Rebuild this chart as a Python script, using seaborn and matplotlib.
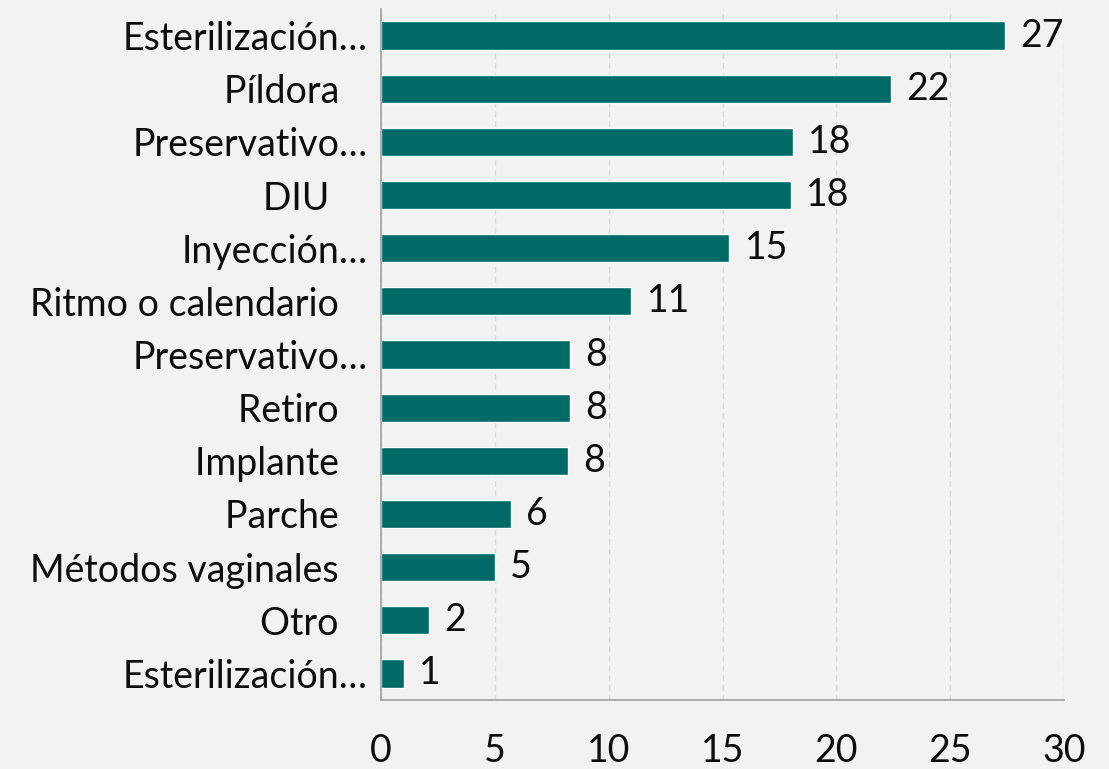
import numpy as np
import matplotlib.pyplot as plt
import seaborn as sns

# métodos anticonceptivos (etiquetas tal como aparecen en el gráfico)
etiquetas = [
    "Esterilización…",
    "Píldora   ",
    "Preservativo…",
    "DIU    ",
    "Inyección…",
    "Ritmo o calendario   ",
    "Preservativo…",
    "Retiro   ",
    "Implante   ",
    "Parche   ",
    "Métodos vaginales   ",
    "Otro   ",
    "Esterilización…",
]
valores = [27.4, 22.4, 18.1, 18.0, 15.3, 11.0, 8.3, 8.3, 8.2, 5.7, 5.0, 2.1, 1.0]

COLOR_BARRA = "#006b66"
FONDO = "#f2f2f2"
GRIS = "#a6a6a6"
TEXTO = "#0d0d0d"
TAM = 27

sns.set_style("white")
plt.rcParams['font.family'] = ['Lato', 'DejaVu Sans']

fig = plt.figure(figsize=(11.09, 7.69), dpi=100, facecolor=FONDO)
ax = fig.add_axes([0.3436, 0.0897, 0.6158, 0.8986])
ax.set_facecolor(FONDO)

posiciones = np.arange(len(valores))
sns.barplot(x=valores, y=posiciones, orient="h", color=COLOR_BARRA,
            saturation=1, width=0.53, ax=ax)

ax.bar_label(ax.containers[0], labels=[f"{v:.0f}" for v in valores],
             padding=11, fontsize=TAM, color=TEXTO)

# ejes
ax.set_xlim(0, 30)
ax.set_ylim(len(valores) - 0.5, -0.5)
ax.set_xticks(range(0, 31, 5))
ax.set_yticks(posiciones, labels=etiquetas)
ax.set_yticks(np.arange(-0.5, len(valores), 1), minor=True)
ax.tick_params(axis="y", which="major", length=0, pad=9.5, labelsize=TAM,
               labelcolor=TEXTO)
ax.tick_params(axis="y", which="minor", length=9.5, width=1.3, color=GRIS)
ax.tick_params(axis="x", length=9.5, width=1.3, color=GRIS, pad=14,
               labelsize=TAM, labelcolor=TEXTO)
ax.set_xlabel("")
ax.set_ylabel("")

ax.grid(axis="x", linestyle=(0, (4, 3)), color="#d9d9d9", linewidth=1)
ax.set_axisbelow(True)
for lado in ["top", "right"]:
    ax.spines[lado].set_visible(False)
for lado in ["left", "bottom"]:
    ax.spines[lado].set_color(GRIS)
    ax.spines[lado].set_linewidth(1.3)

plt.savefig("out.png", dpi=100, facecolor=FONDO)
